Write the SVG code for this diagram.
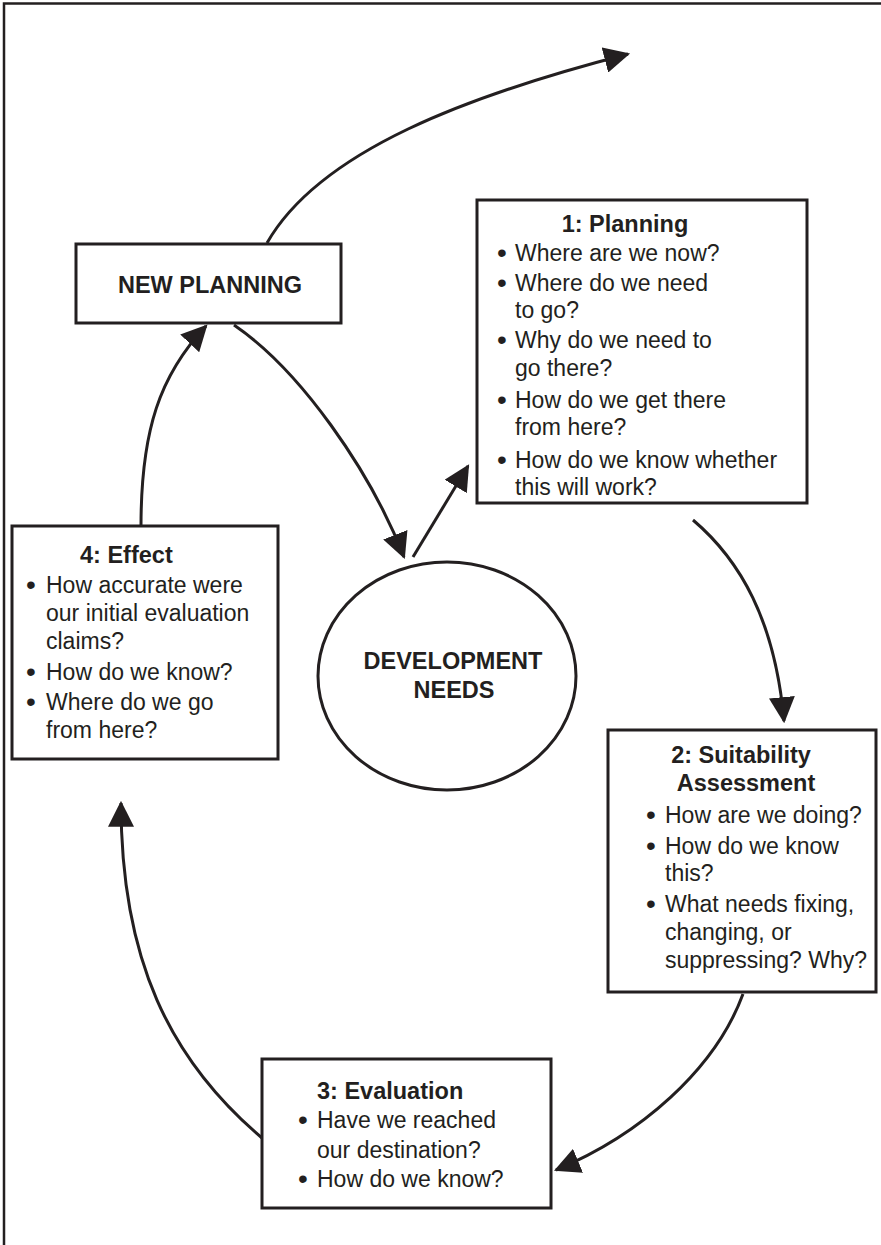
<svg xmlns="http://www.w3.org/2000/svg" width="881" height="1245" viewBox="0 0 881 1245">
<style>
.box{fill:#fff;stroke:#231f20;stroke-width:3}
.conn{fill:none;stroke:#231f20;stroke-width:3;marker-end:url(#ah)}
text{font-family:"Liberation Sans",Arial,sans-serif;fill:#231f20;font-size:23px}
.b{font-weight:bold;font-size:23.5px}
.m{text-anchor:middle}
.d{text-anchor:middle;font-size:28px}
</style>
<defs>
<marker id="ah" markerUnits="userSpaceOnUse" markerWidth="26" markerHeight="26" viewBox="0 0 24 24" refX="22" refY="12" orient="auto">
<path d="M0,0 L24,12 L0,24 z" fill="#231f20"/>
</marker>
</defs>
<rect width="881" height="1245" fill="#fff"/>
<path d="M4,1245 V3.5 H881" fill="none" stroke="#231f20" stroke-width="2.5"/>

<g id="connectors">
<path class="conn" d="M267,243 C320,150 470,95 628,54"/>
<path class="conn" d="M234,325 C300,370 370,470 404,557"/>
<path class="conn" d="M413,557 L468,466"/>
<path class="conn" d="M693,520 C740,560 775,620 784,721"/>
<path class="conn" d="M743,994 C715,1070 640,1135 556,1170"/>
<path class="conn" d="M262,1138 C170,1060 121,960 121,803"/>
<path class="conn" d="M141,526 C141,430 160,375 206,326"/>
</g>

<g id="new-planning">
<rect class="box" x="76" y="244" width="265" height="79"/>
<text class="b m" x="210" y="293">NEW PLANNING</text>
</g>

<g id="development-needs">
<ellipse cx="447" cy="676" rx="129" ry="114" fill="#fff" stroke="#231f20" stroke-width="3"/>
<text class="b m" x="453" y="669">DEVELOPMENT</text>
<text class="b m" x="454" y="698">NEEDS</text>
</g>

<g id="planning">
<rect class="box" x="477" y="200" width="330" height="303"/>
<text class="b m" x="625" y="232">1: Planning</text>
<text class="d" x="502" y="262">•</text>
<text x="515" y="261">Where are we now?</text>
<text class="d" x="502" y="292">•</text>
<text x="515" y="291">Where do we need</text>
<text x="515" y="318">to go?</text>
<text class="d" x="502" y="349">•</text>
<text x="515" y="348">Why do we need to</text>
<text x="515" y="376">go there?</text>
<text class="d" x="502" y="409">•</text>
<text x="515" y="408">How do we get there</text>
<text x="515" y="435">from here?</text>
<text class="d" x="502" y="469">•</text>
<text x="515" y="468">How do we know whether</text>
<text x="515" y="495">this will work?</text>
</g>

<g id="suitability">
<rect class="box" x="608" y="730" width="268" height="262"/>
<text class="b m" x="741" y="763">2: Suitability</text>
<text class="b m" x="746" y="791">Assessment</text>
<text class="d" x="651" y="824">•</text>
<text x="665" y="823">How are we doing?</text>
<text class="d" x="651" y="855">•</text>
<text x="665" y="854">How do we know</text>
<text x="665" y="881">this?</text>
<text class="d" x="651" y="913">•</text>
<text x="665" y="912">What needs fixing,</text>
<text x="665" y="940">changing, or</text>
<text x="665" y="968">suppressing? Why?</text>
</g>

<g id="evaluation">
<rect class="box" x="262" y="1059" width="289" height="149"/>
<text class="b" x="317" y="1099">3: Evaluation</text>
<text class="d" x="303" y="1129">•</text>
<text x="317" y="1128">Have we reached</text>
<text x="317" y="1158">our destination?</text>
<text class="d" x="303" y="1188">•</text>
<text x="317" y="1187">How do we know?</text>
</g>

<g id="effect">
<rect class="box" x="12" y="526" width="266" height="233"/>
<text class="b" x="80" y="563">4: Effect</text>
<text class="d" x="31" y="594">•</text>
<text x="46" y="593">How accurate were</text>
<text x="46" y="621">our initial evaluation</text>
<text x="46" y="649">claims?</text>
<text class="d" x="31" y="681">•</text>
<text x="46" y="680">How do we know?</text>
<text class="d" x="31" y="711">•</text>
<text x="46" y="710">Where do we go</text>
<text x="46" y="738">from here?</text>
</g>
</svg>
